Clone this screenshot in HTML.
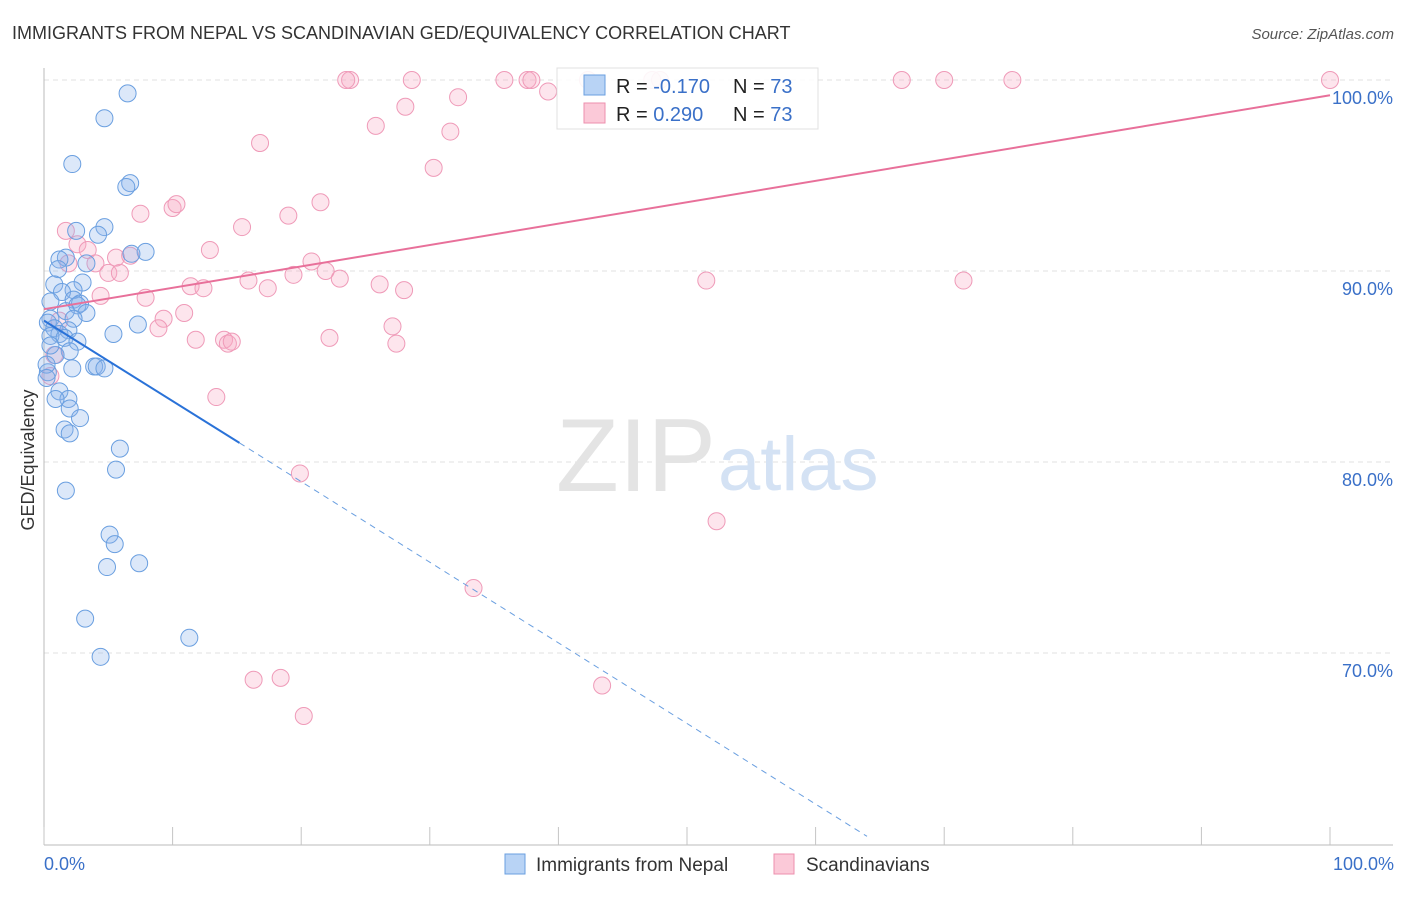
<!DOCTYPE html>
<html><head><meta charset="utf-8"><style>
body{margin:0;background:#fff;font-family:"Liberation Sans",sans-serif;}
svg text{font-family:"Liberation Sans",sans-serif;}
</style></head><body>
<svg id="chart" width="1406" height="892" xmlns="http://www.w3.org/2000/svg">
<text x="12" y="39" font-size="18" fill="#333">IMMIGRANTS FROM NEPAL VS SCANDINAVIAN GED/EQUIVALENCY CORRELATION CHART</text>
<text x="1394" y="39" font-size="15" fill="#555" font-style="italic" text-anchor="end">Source: ZipAtlas.com</text>
<g id="grid"></g>
<text x="716" y="491" font-size="104" fill="#e4e4e4" text-anchor="end" textLength="160" lengthAdjust="spacingAndGlyphs" font-family="Liberation Serif">ZIP</text>
<text x="718" y="490" font-size="76" fill="#d4e2f4">atlas</text>
<text transform="translate(34,460) rotate(-90)" font-size="18" fill="#333" text-anchor="middle">GED/Equivalency</text>
<g id="points"></g>
<g id="lines"></g>
<g>
<rect x="557" y="68" width="261" height="61" fill="#fff" stroke="#ddd" opacity="0.9"/>
<rect x="584" y="75" width="21" height="20" fill="#b8d3f5" stroke="#6a9fe0"/>
<rect x="584" y="103" width="21" height="20" fill="#fbc9d8" stroke="#ec8fae"/>
<text x="616" y="93" font-size="20" fill="#222">R = <tspan fill="#3a70c8">-0.170</tspan></text>
<text x="733" y="93" font-size="20" fill="#222">N = <tspan fill="#3a70c8">73</tspan></text>
<text x="616" y="121" font-size="20" fill="#222">R = <tspan fill="#3a70c8"> 0.290</tspan></text>
<text x="733" y="121" font-size="20" fill="#222">N = <tspan fill="#3a70c8">73</tspan></text>
</g>
<g>
<rect x="505" y="854" width="20" height="20" fill="#b8d3f5" stroke="#6a9fe0"/>
<text x="536" y="871" font-size="19" fill="#333">Immigrants from Nepal</text>
<rect x="774" y="854" width="20" height="20" fill="#fbc9d8" stroke="#ec8fae"/>
<text x="806" y="871" font-size="19" fill="#333">Scandinavians</text>
</g>
<text x="44" y="870" font-size="18" fill="#3a70c8">0.0%</text>
<text x="1394" y="870" font-size="18" fill="#3a70c8" text-anchor="end">100.0%</text>
</svg>
<script>
const yTicks=[100,90,80,70];
const yTickLabels=["100.0%","90.0%","80.0%","70.0%"];
const xTicks=[0,10,20,30,40,50,60,70,80,90,100];
const nepalX=[6.5,4.7,2.2,6.7,6.4,4.7,2.5,4.2,7.9,6.8,1.7,1.2,1.1,3.3,0.8,3.0,2.3,1.4,0.5,2.3,2.8,2.6,1.7,3.3,0.5,2.3,0.3,7.3,0.8,1.9,1.2,5.4,0.5,1.6,2.6,2.0,0.9,3.9,4.1,4.7,2.2,0.3,1.2,1.9,0.9,2.0,2.8,1.6,2.0,5.9,5.6,1.7,5.1,5.5,4.9,7.4,3.2,11.3,4.4,0.2,0.2,0.5];
const nepalY=[99.3,98.0,95.6,94.6,94.4,92.3,92.1,91.9,91.0,90.9,90.7,90.6,90.1,90.4,89.3,89.4,89.0,88.9,88.4,88.5,88.3,88.2,87.9,87.8,87.5,87.5,87.3,87.2,87.0,86.9,86.7,86.7,86.6,86.5,86.3,85.8,85.6,85.0,85.0,84.9,84.9,84.7,83.7,83.3,83.3,82.8,82.3,81.7,81.5,80.7,79.6,78.5,76.2,75.7,74.5,74.7,71.8,70.8,69.8,85.1,84.4,86.1];
const scanX=[1.7,2.6,3.4,1.9,4.0,5.0,5.9,5.6,6.7,4.4,7.9,7.5,10.0,10.3,12.9,15.4,16.8,19.0,21.5,11.4,12.4,15.9,17.4,19.4,20.8,21.9,23.0,26.1,28.0,23.8,23.5,25.8,28.1,28.6,31.6,32.2,30.3,35.8,37.6,37.9,39.2,42.3,47.3,47.9,66.7,70.0,75.3,100,10.9,9.3,8.9,11.8,14.0,14.3,14.6,22.2,27.1,27.4,13.4,19.9,51.5,71.5,52.3,33.4,43.4,16.3,18.4,20.2,0.8,0.5,1.2];
const scanY=[92.1,91.4,91.1,90.4,90.4,89.9,89.9,90.7,90.8,88.7,88.6,93.0,93.3,93.5,91.1,92.3,96.7,92.9,93.6,89.2,89.1,89.5,89.1,89.8,90.5,90.0,89.6,89.3,89.0,100,100,97.6,98.6,100,97.3,99.1,95.4,100,100,100,99.4,100,100,100,100,100,100,100,87.8,87.5,87.0,86.4,86.4,86.2,86.3,86.5,87.1,86.2,83.4,79.4,89.5,89.5,76.9,73.4,68.3,68.6,68.7,66.7,85.6,84.5,87.4];
const nepalTrend=[[0,87.4],[15.2,81.0],[64,60.4]];
const scanTrend=[[0,88.0],[100,99.2]];
const NS="http://www.w3.org/2000/svg";
const xs=v=>44+v*12.86;
const ys=v=>80+(100-v)*19.1;
function mk(tag,attrs,parent){const e=document.createElementNS(NS,tag);for(const k in attrs)e.setAttribute(k,attrs[k]);parent.appendChild(e);return e;}
const grid=document.getElementById('grid');
yTicks.forEach((t,i)=>{
 const l=mk('line',{x1:44,x2:1393,y1:ys(t),y2:ys(t),stroke:'#e0e0e0','stroke-dasharray':'5,4'},grid);
 
 
 const tx=mk('text',{x:1393,y:ys(t)+24,'font-size':18,fill:'#3a70c8','text-anchor':'end'},grid);
 tx.textContent=yTickLabels[i];
 
 
});
const ax=mk('line',{x1:44,x2:44,y1:68,y2:845,stroke:'#bbb'},grid);


const bx=mk('line',{x1:44,x2:1393,y1:845,y2:845,stroke:'#bbb'},grid);


xTicks.forEach(t=>{
 const l=mk('line',{x1:xs(t),x2:xs(t),y1:827,y2:845,stroke:'#c4c4c4'},grid);
 
 
});
const pts=document.getElementById('points');
scanX.forEach((x,i)=>{
 const c=mk('circle',{cx:xs(x),cy:ys(scanY[i]),r:8.5,fill:'rgba(248,170,196,0.3)',stroke:'#ef9ab8','stroke-width':1},pts);
 
 
});
nepalX.forEach((x,i)=>{
 const c=mk('circle',{cx:xs(x),cy:ys(nepalY[i]),r:8.5,fill:'rgba(140,180,235,0.3)',stroke:'#6a9fe0','stroke-width':1},pts);
 
 
});
const lines=document.getElementById('lines');
const b1=mk('line',{x1:xs(nepalTrend[0][0]),y1:ys(nepalTrend[0][1]),x2:xs(nepalTrend[1][0]),y2:ys(nepalTrend[1][1]),stroke:'#2a72d8','stroke-width':2},lines);


const b2=mk('line',{x1:xs(nepalTrend[1][0]),y1:ys(nepalTrend[1][1]),x2:xs(nepalTrend[2][0]),y2:ys(nepalTrend[2][1]),stroke:'#6a9fe0','stroke-width':1,'stroke-dasharray':'6,5'},lines);


const p1=mk('line',{x1:xs(scanTrend[0][0]),y1:ys(scanTrend[0][1]),x2:xs(scanTrend[1][0]),y2:ys(scanTrend[1][1]),stroke:'#e8709a','stroke-width':2},lines);


</script>
</body></html>
